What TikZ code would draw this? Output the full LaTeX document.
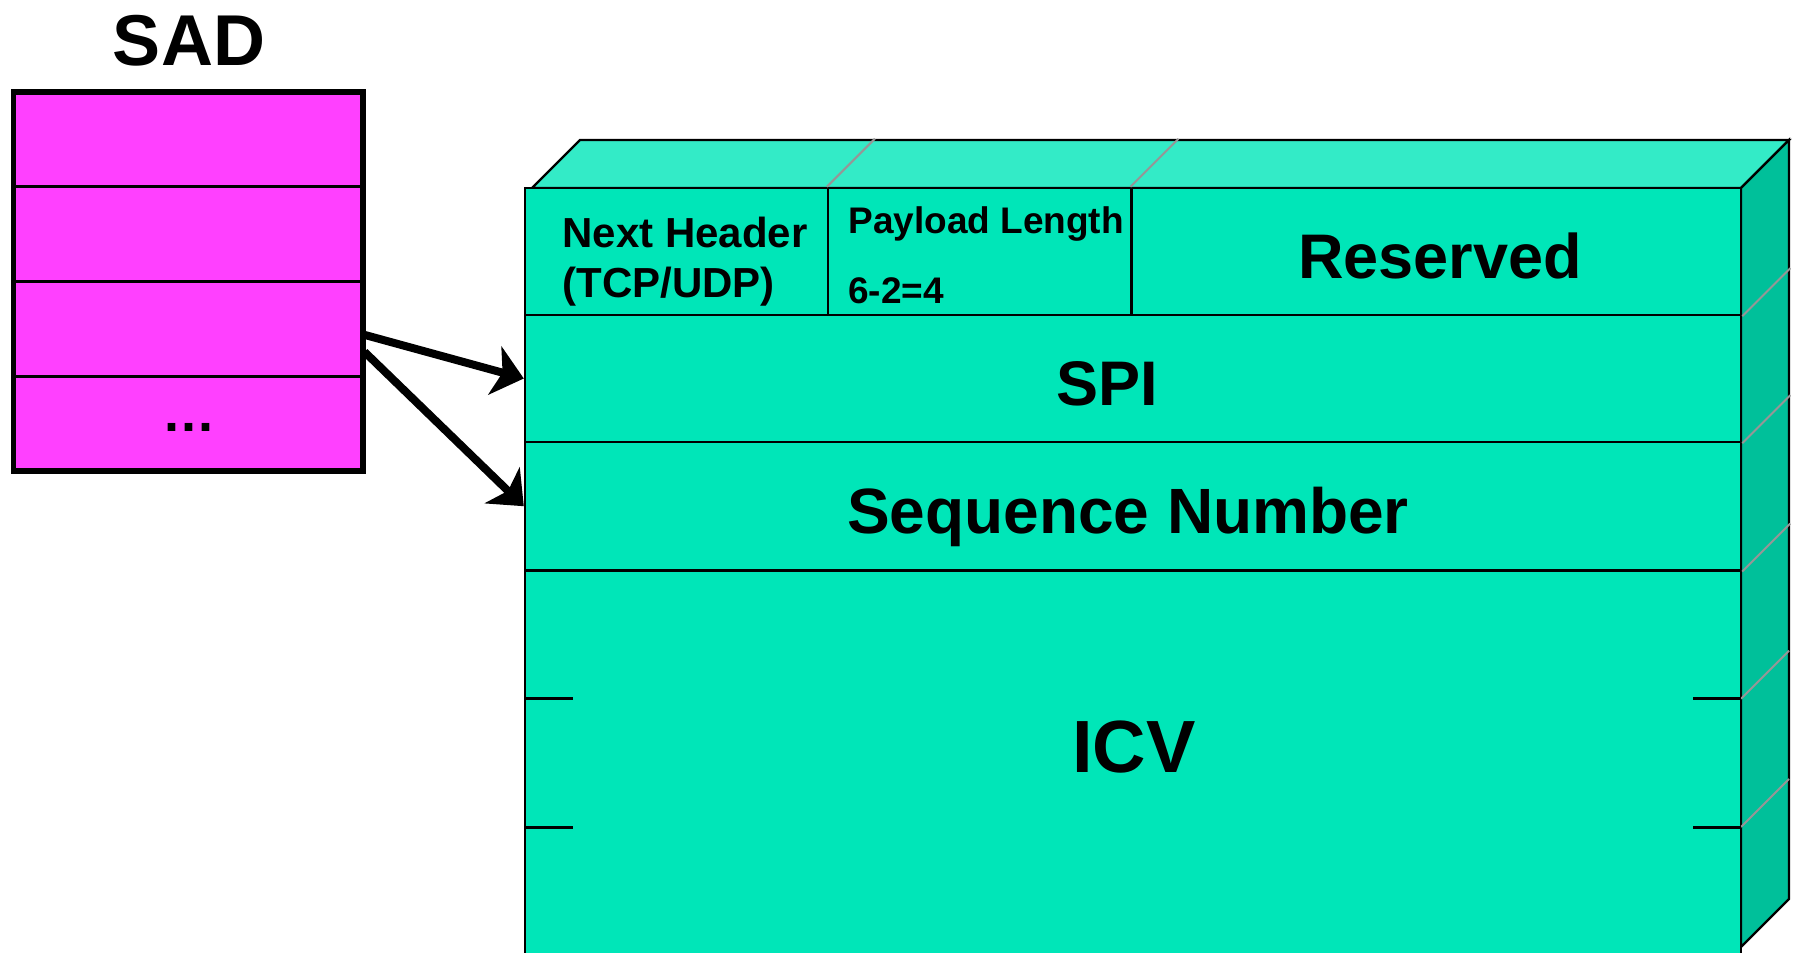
\documentclass[tikz,border=0pt]{standalone}
\usepackage{fontspec}
\setmainfont{Liberation Sans}
\usetikzlibrary{fit,arrows.meta}
\definecolor{sadmag}{RGB}{255,64,255}
\definecolor{frontc}{RGB}{0,230,184}
\definecolor{topc}{RGB}{51,235,199}
\definecolor{sidec}{RGB}{0,192,154}
\definecolor{diagc}{RGB}{150,150,150}
\begin{document}
\begin{tikzpicture}[x=0.5pt,y=-0.5pt,
  sadrow/.style={fill=sadmag,draw=black,line width=1.5pt,inner sep=0pt},
  sadouter/.style={draw=black,line width=2.75pt,inner sep=0pt},
  cell/.style={draw=black,line width=1.2pt,inner sep=0pt},
  face/.style={draw=black,line width=1.2pt,line join=miter},
  diag/.style={draw=diagc,line width=1pt},
  tickline/.style={draw=black,line width=1.5pt},
  lbl/.style={inner sep=0pt,anchor=base,font=\bfseries},
  arr/.style={line width=4pt,-{Stealth[length=15pt,width=25pt,inset=4pt]}}]
\useasboundingbox (0,0) rectangle (1796,953);
\clip (0,0) rectangle (1796,953);
% SAD table
\node[sadrow,fit={(13.5,92) (363,186.7)}] (sad1) {};
\node[sadrow,fit={(13.5,186.7) (363,281.7)}] (sad2) {};
\node[sadrow,fit={(13.5,281.7) (363,376)}] (sad3) {};
\node[sadrow,fit={(13.5,376) (363,471)}] (sad4) {};
\node[sadouter,fit={(13.5,92) (363,471)}] (sad) {};
\node[lbl,font=\bfseries\fontsize{36}{40}\selectfont] (sadlbl) at (189,65) {SAD};
\node[lbl,font=\bfseries\fontsize{27}{30}\selectfont] (dots) at (189,431) {.\kern1pt.\kern1pt.};
% 3D box faces
\path[face,fill=topc] (532,188) -- (580,140) -- (1789,140) -- (1741,188) -- cycle;
\path[face,fill=sidec] (1741,188) -- (1789,140) -- (1789,899) -- (1741,947) -- cycle;
\path[face,fill=frontc] (525,188) rectangle (1741,975);
% cells
\node[cell,fit={(525,188) (828,315)}] (nh) {};
\node[cell,fit={(828,188) (1131.6,315)}] (pl) {};
\node[cell,fit={(1131.6,188) (1741,315)}] (res) {};
\node[cell,fit={(525,315) (1741,442)}] (spi) {};
\node[cell,fit={(525,442) (1741,570.4)}] (seq) {};
\node[cell,fit={(525,570.4) (1741,975)}] (icv) {};
% diagonals
\draw[diag] (pl.north west) -- ++(48,-48);
\draw[diag] (res.north west) -- ++(48,-48);
\draw[diag] (res.south east) -- ++(48,-48);
\draw[diag] (spi.south east) -- ++(48,-48);
\draw[diag] (seq.south east) -- ++(48,-48);
\draw[diag] (1741,698.7) -- ++(48,-48);
\draw[diag] (1741,827) -- ++(48,-48);
% ICV ticks
\draw[tickline] (525,698.7) -- ++(48,0);
\draw[tickline] (525,827) -- ++(48,0);
\draw[tickline] (1693,698.7) -- (1741,698.7);
\draw[tickline] (1693,827) -- (1741,827);
% labels
\node[lbl,anchor=base west,font=\bfseries\fontsize{21}{25}\selectfont] (nh1) at (562,247) {Next Header};
\node[lbl,anchor=base west,font=\bfseries\fontsize{21}{25}\selectfont] (nh2) at (562,297) {(TCP/UDP)};
\node[lbl,anchor=base west,font=\bfseries\fontsize{18.5}{22}\selectfont] (pl1) at (848,233.5) {Payload Length};
\node[lbl,anchor=base west,font=\bfseries\fontsize{18.5}{22}\selectfont] (pl2) at (848,303.5) {6-2=4};
\node[lbl,font=\bfseries\fontsize{31.5}{36}\selectfont] (reslbl) at (1440,278) {Reserved};
\node[lbl,font=\bfseries\fontsize{31.5}{36}\selectfont] (spilbl) at (1107.6,405) {SPI};
\node[lbl,font=\bfseries\fontsize{32}{36}\selectfont] (seqlbl) at (1128,533) {Sequence Number};
\node[lbl,font=\bfseries\fontsize{37}{42}\selectfont] (icvlbl) at (1134,772) {ICV};
% arrows
\draw[arr] ([yshift=-3pt]sad3.east) -- (spi.west);
\draw[arr] ([yshift=-11.5pt]sad3.east) -- (seq.west);
\end{tikzpicture}
\end{document}
